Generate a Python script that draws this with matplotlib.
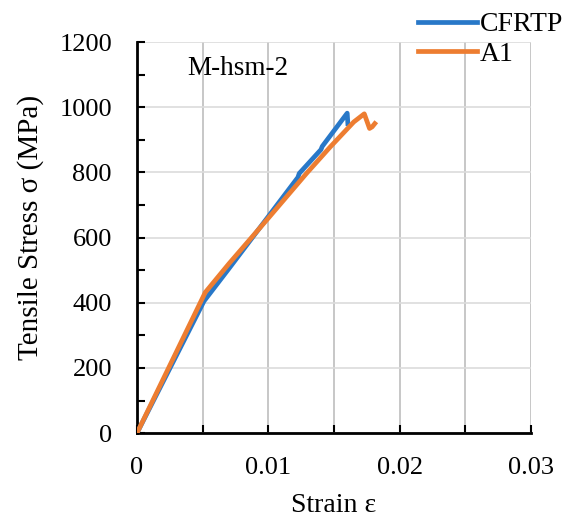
import numpy as np
import matplotlib
matplotlib.use('Agg')
import matplotlib.pyplot as plt
from matplotlib.ticker import MultipleLocator

plt.rcParams['font.family'] = ['Liberation Serif', 'DejaVu Serif']

# strain / stress
cfrtp_strain = [0, 0.0051, 0.0070, 0.0100, 0.01225, 0.01235, 0.0140, 0.0141, 0.0160, 0.01605]
cfrtp_stress = [0, 405, 505, 665, 785, 797, 870, 880, 982, 950]

al_strain = [0, 0.0052, 0.0070, 0.0100, 0.0129, 0.0147, 0.0165, 0.0173, 0.0177, 0.0179, 0.0181]
al_stress = [0, 432, 520, 660, 797, 878, 955, 980, 935, 940, 950]

fig = plt.figure(figsize=(5.73, 5.2), dpi=100)
ax = fig.add_axes([0.239, 0.167, 0.688, 0.752])

ax.plot(cfrtp_strain, cfrtp_stress, color='#2878C8', lw=3.4, label='CFRTP', zorder=3)
ax.plot(al_strain, al_stress, color='#ED7D31', lw=3.4, label='A1', zorder=4)

ax.set_xlim(0, 0.03)
ax.set_ylim(0, 1200)
ax.set_xticks([0, 0.01, 0.02, 0.03])
ax.set_xticklabels(['0', '0.01', '0.02', '0.03'])
ax.xaxis.set_minor_locator(MultipleLocator(0.005))
ax.yaxis.set_major_locator(MultipleLocator(200))
ax.yaxis.set_minor_locator(MultipleLocator(100))

ax.tick_params(which='both', direction='in', width=1.5, color='black', labelsize=19)
ax.tick_params(which='major', length=6)
ax.tick_params(which='minor', length=6)
ax.tick_params(axis='y', which='major', pad=18)
ax.tick_params(axis='x', which='major', pad=17)

ax.grid(True, axis='x', which='both', color='#BDBDBD', lw=1.2)
ax.grid(True, axis='y', which='major', color='#DCDCDC', lw=1.2)

for s in ['top', 'right']:
    ax.spines[s].set_visible(False)
for s in ['left', 'bottom']:
    ax.spines[s].set_linewidth(2)
    ax.spines[s].set_color('black')

ax.set_xlabel('Strain ε', fontsize=20, labelpad=10)
ax.set_ylabel('Tensile Stress σ (MPa)', fontsize=21)
ax.yaxis.set_label_coords(-0.235, 0.527)
ax.text(0.0038, 1120, 'M-hsm-2', fontsize=19.5, ha='left', va='center')

fig.legend(loc='upper right', bbox_to_anchor=(1.026, 1.025), frameon=False,
           fontsize=20, handlelength=2.1, handletextpad=0.1, labelspacing=0.15)

fig.savefig('out.png', dpi=100)
